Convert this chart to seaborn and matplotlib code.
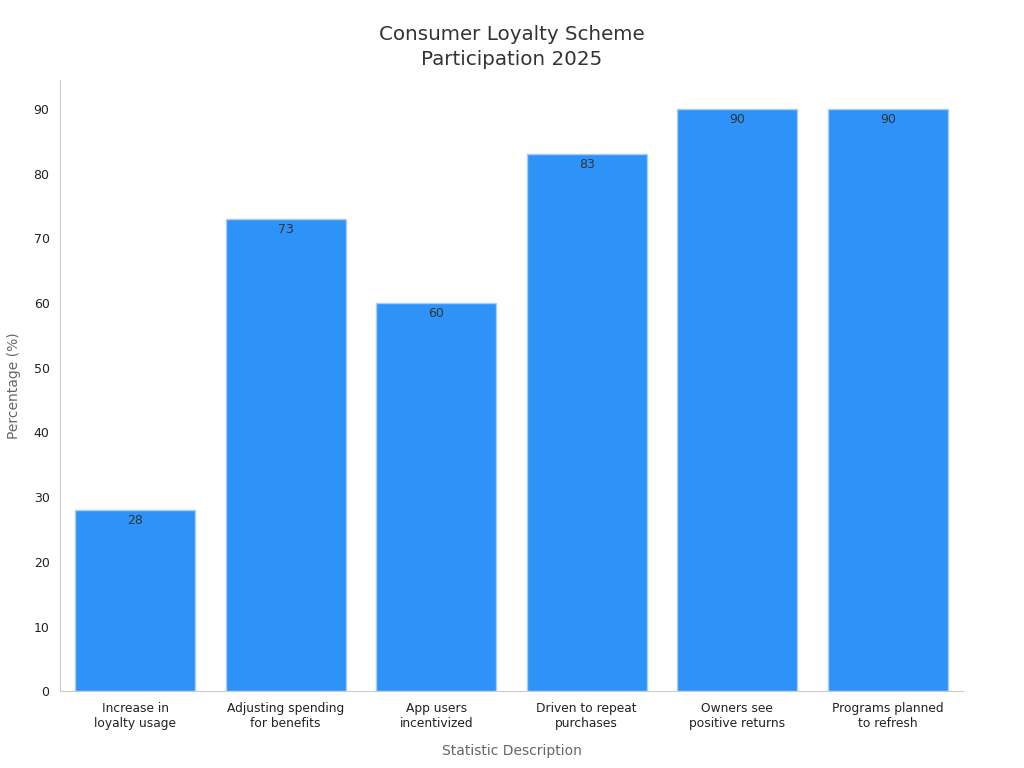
import pandas as pd
import seaborn as sns
import matplotlib.pyplot as plt

categories = ["Increase in\nloyalty usage", "Adjusting spending\nfor benefits",
              "App users\nincentivized", "Driven to repeat\npurchases",
              "Owners see\npositive returns", "Programs planned\nto refresh"]
values = [28, 73, 60, 83, 90, 90]

sns.set_style("white")
plt.rcParams['font.family'] = ['DejaVu Sans']

df = pd.DataFrame({"Statistic": categories, "Percentage": values})

fig = plt.figure(figsize=(10.24, 7.68), dpi=100)
ax = fig.add_axes([0.0586, 0.100, 0.8818, 0.796])

sns.barplot(data=df, x="Statistic", y="Percentage", color="#2e93f8",
            saturation=1, width=0.8, edgecolor="#a9cdf5", linewidth=1, ax=ax)

for p, v in zip(ax.patches, values):
    ax.text(p.get_x() + p.get_width() / 2, p.get_height() - 0.6, f"{v}",
            ha="center", va="top", fontsize=9, color="#333333")

ax.set_xlim(-0.5, 5.5)
ax.set_ylim(0, 94.5)
ax.set_yticks(range(0, 91, 10))
ax.tick_params(axis="y", labelsize=9, colors="#222222", length=4, color="#555555")
ax.tick_params(axis="x", labelsize=8.8, colors="#222222", length=4, color="#555555")
ax.set_xlabel("Statistic Description", fontsize=10, color="#666666", labelpad=10)
ax.set_ylabel("Percentage (%)", fontsize=10, color="#666666", labelpad=9)
ax.set_title("Consumer Loyalty Scheme\nParticipation 2025", fontsize=14.3,
             color="#333333", pad=11, linespacing=1.4)

sns.despine(ax=ax)
for s in ["left", "bottom"]:
    ax.spines[s].set_color("#cccccc")

plt.savefig("out.png", dpi=100)
